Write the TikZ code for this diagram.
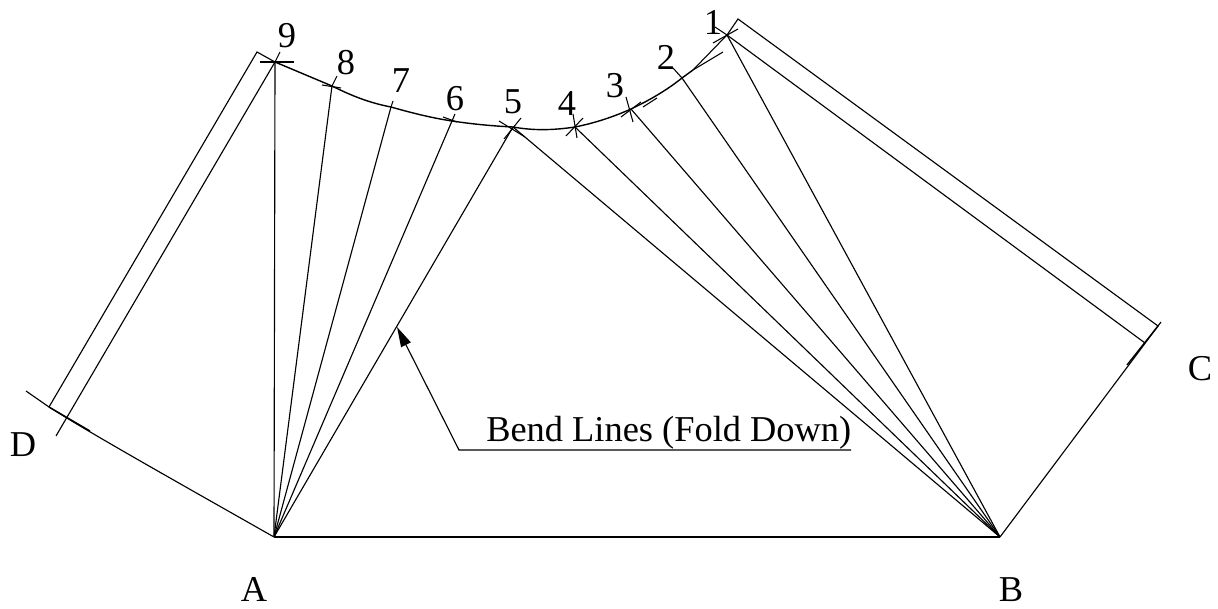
\documentclass[tikz,border=0pt]{standalone}
\usepackage{fontspec}
\setmainfont{Liberation Serif}
\usetikzlibrary{arrows.meta}
\tikzset{
  lbl/.style={font=\fontsize{27.3}{27.3}\selectfont,inner sep=0pt,text=black},
  ln/.style={draw=black,line width=0.85pt},
  tick/.style={draw=black,line width=0.8pt},
  fold/.style={draw=black,line width=1.05pt}
}
\begin{document}
\begin{tikzpicture}[x=0.75pt,y=-0.75pt]
\useasboundingbox (0,0) rectangle (1218,609);
\coordinate (A) at (274,537);
\coordinate (B) at (1000,537);
\coordinate (p9) at (275,62);
\coordinate (p8) at (332,86);
\coordinate (p7) at (391,107);
\coordinate (p6) at (452,121);
\coordinate (p5) at (513,127);
\coordinate (p4) at (575,127);
\coordinate (p3) at (631,109);
\coordinate (p2) at (682,78);
\coordinate (p1) at (727,35);
\coordinate (cD) at (257,52);
\coordinate (dO) at (49,407);
\coordinate (dI) at (56,436);
\coordinate (dE) at (26,391);
\coordinate (cC) at (738,19);
\coordinate (cO) at (1158,326);
\coordinate (cI) at (1145,343);
\coordinate (cE) at (1161,322);
\coordinate (l1) at (397,327);
\coordinate (l2) at (459,450);
\coordinate (l3) at (851,450);
% bend lines
\foreach \p in {p9,p8,p7,p6,p5}{\draw[ln] (A) -- (\p);}
\foreach \p in {p5,p4,p3,p2,p1}{\draw[ln] (B) -- (\p);}
\draw[ln] (A) -- (B);
% curve 9 to 5
\draw[fold] (p9) -- (p8)
  .. controls (352,96) and (370,103) .. (p7)
  .. controls (412,113) and (432,118) .. (p6)
  .. controls (472,124) and (492,126) .. (p5)
  .. controls (535,131) and (555,130) .. (p4)
  .. controls (595,123) and (613,117) .. (p3)
  .. controls (650,100) and (667,90) .. (p2)
  -- (693,70);
\draw[tick] (693,70) -- (p1);
\draw[tick] (693,70) -- (723,52);
\draw[tick] (643,107) -- (657,98);
% tabs
\draw[ln] (p9) -- (cD) -- (dO);
\draw[ln] (p9) -- (dI);
\draw[ln] (p1) -- (cC) -- (cO);
\draw[ln] (p1) -- (cI);
\draw[ln] (A) .. controls (170,478) and (90,433) .. (dO) -- (dE);
\draw[fold] (49,407) -- (90,431);
\draw[ln] (B) -- (cE);
\draw[fold] (1127,365) -- (1158,326);
% ticks
\draw[tick] (260,62) -- (294,62);
\draw[tick] (p9) -- (280,52);
\draw[tick] (322,85) -- (341,88);
\draw[tick] (p8) -- (337,76);
\draw[tick] (p7) -- (393,101);
\draw[tick] (443,117) -- (457,122);
\draw[tick] (p6) -- (455,114);
\draw[tick] (499,121) -- (525,137);
\draw[tick] (521,118) -- (504,139);
\draw[tick] (566,136) -- (583,118);
\draw[tick] (573,114) -- (577,138);
\draw[tick] (621,117) -- (641,102);
\draw[tick] (626,97) -- (633,122);
\draw[tick] (673,68) -- (p2);
\draw[tick] (713,43) -- (738,29);
\draw[tick] (715,27) -- (p1);
% leader
\draw[ln,{Triangle[length=15pt,width=8pt]}-] (l1) -- (l2) -- (l3);
% labels
\node[lbl] (n9) at (287,36) {9};
\node[lbl] (n8) at (346,63) {8};
\node[lbl] (n7) at (401,81) {7};
\node[lbl] (n6) at (455,99) {6};
\node[lbl] (n5) at (513,102) {5};
\node[lbl] (n4) at (567,104) {4};
\node[lbl] (n3) at (615,86) {3};
\node[lbl] (n2) at (666,57) {2};
\node[lbl] (n1) at (713,22) {1};
\node[lbl] (nA) at (254,589) {A};
\node[lbl] (nB) at (1011,590) {B};
\node[lbl] (nC) at (1200,369) {C};
\node[lbl] (nD) at (23,445) {D};
\node[lbl,anchor=base west] (note) at (486,442) {Bend Lines (Fold Down)};
\end{tikzpicture}
\end{document}
